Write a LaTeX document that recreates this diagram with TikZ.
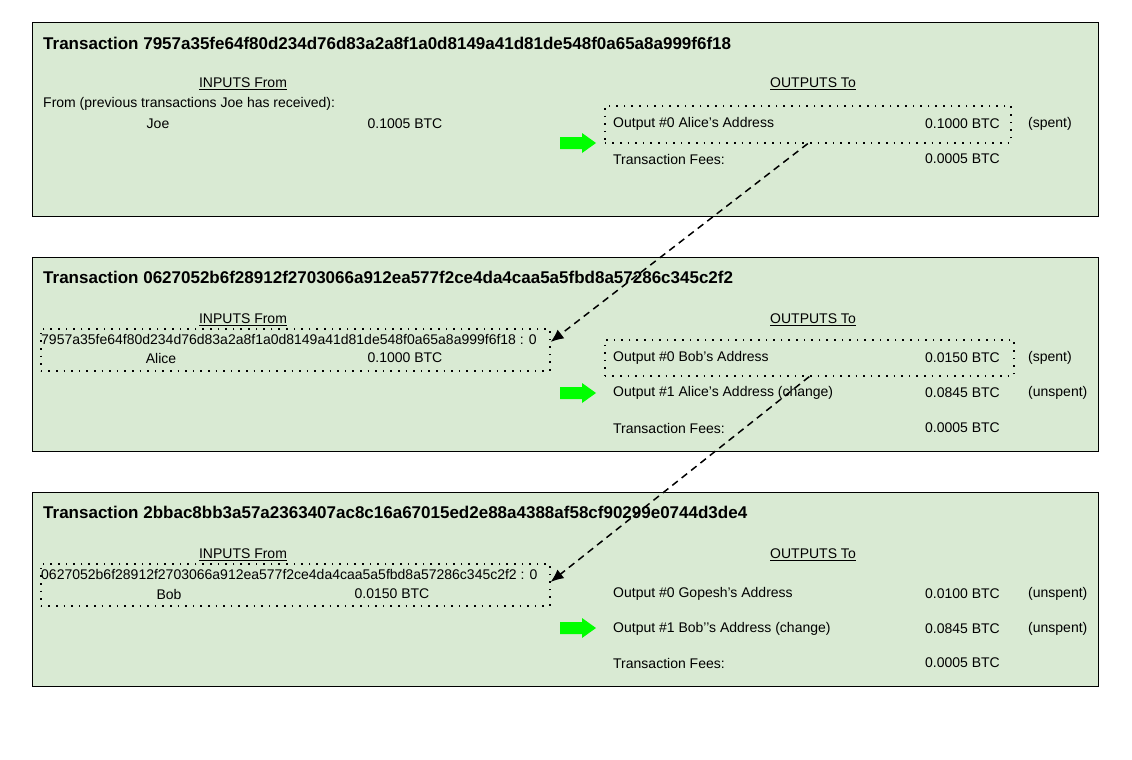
\documentclass[tikz,border=0pt]{standalone}
\usepackage{fontspec}
\setmainfont{Liberation Sans}
\usetikzlibrary{calc,arrows.meta}

\begin{document}
\begin{tikzpicture}[x=1pt,y=-1pt,
	txbox/.style={draw, thick, fill=txgreen},
	dotbox/.style={draw, line width=1.6pt, dash pattern=on 1.6pt off 6pt, inner sep=0},
	lbl/.style={font=\fontsize{14}{16}\selectfont, inner sep=0},
	ttl/.style={font=\fontsize{17}{19}\selectfont\bfseries, inner sep=0, anchor=west},
	link/.style={line width=1.5pt, dash pattern=on 7pt off 5pt, -{Latex[length=13pt,width=11pt]}},
	go/.pic={\fill [green] (-18,-6) -- (4,-6) -- (4,-10) -- (18,0) -- (4,10) -- (4,6) -- (-18,6) -- cycle;}]

	\definecolor{txgreen}{HTML}{D9EAD3}
	\useasboundingbox (0,0) rectangle (1132,760);

	% transaction boxes
	\draw [txbox] (32,22) rectangle (1098,216);
	\draw [txbox] (32,257) rectangle (1098,451);
	\draw [txbox] (32,492) rectangle (1098,686);

	\node [ttl] (t1) at (43,43) {Transaction 7957a35fe64f80d234d76d83a2a8f1a0d8149a41d81de548f0a65a8a999f6f18};
	\node [ttl] (t2) at (43,277) {Transaction 0627052b6f28912f2703066a912ea577f2ce4da4caa5a5fbd8a57286c345c2f2};
	\node [ttl] (t3) at (43,512) {Transaction 2bbac8bb3a57a2363407ac8c16a67015ed2e88a4388af58cf90299e0744d3de4};

	% dotted boxes
	\node [dotbox, minimum width=406pt, minimum height=37pt, anchor=north west] (out1) at (604,105) {};
	\node [dotbox, minimum width=509pt, minimum height=42pt, anchor=north west] (in2) at (40,328) {};
	\node [dotbox, minimum width=409pt, minimum height=36pt, anchor=north west] (out2) at (604,339) {};
	\node [dotbox, minimum width=509pt, minimum height=42pt, anchor=north west] (in3) at (40,563) {};

	% first transaction
	\node [lbl] (i1) at (243,84) {\underline{INPUTS From}};
	\node [lbl] (o1) at (813,84) {\underline{OUTPUTS To}};
	\node [lbl, anchor=west] (f1) at (43,104) {From (previous transactions Joe has received):};
	\node [lbl] (joe) at (158,124) {Joe};
	\node [lbl] (joev) at (405,124) {0.1005 BTC};
	\node [lbl, anchor=west] (o1a) at (613,124) {Output \#0 Alice’s Address};
	\node [lbl, anchor=east] (o1av) at (1000,124) {0.1000 BTC};
	\node [lbl, anchor=west] (o1as) at (1028,124) {(spent)};
	\node [lbl, anchor=west] (fee1) at (613,159) {Transaction Fees:};
	\node [lbl, anchor=east] (fee1v) at (1000,159) {0.0005 BTC};
	\pic at (578,143) {go};

	% second transaction
	\node [lbl] (i2) at (243,320) {\underline{INPUTS From}};
	\node [lbl] (o2) at (813,320) {\underline{OUTPUTS To}};
	\node [lbl, anchor=west] (h2) at (41,339) {7957a35fe64f80d234d76d83a2a8f1a0d8149a41d81de548f0a65a8a999f6f18 : 0};
	\node [lbl] (alice) at (161,358) {Alice};
	\node [lbl] (alicev) at (405,358) {0.1000 BTC};
	\node [lbl, anchor=west] (o2a) at (613,358) {Output \#0 Bob’s Address};
	\node [lbl, anchor=east] (o2av) at (1000,358) {0.0150 BTC};
	\node [lbl, anchor=west] (o2as) at (1028,358) {(spent)};
	\node [lbl, anchor=west] (o2b) at (613,393) {Output \#1 Alice’s Address (change)};
	\node [lbl, anchor=east] (o2bv) at (1000,393) {0.0845 BTC};
	\node [lbl, anchor=west] (o2bs) at (1028,393) {(unspent)};
	\node [lbl, anchor=west] (fee2) at (613,428) {Transaction Fees:};
	\node [lbl, anchor=east] (fee2v) at (1000,428) {0.0005 BTC};
	\pic at (578,393) {go};

	% third transaction
	\node [lbl] (i3) at (243,555) {\underline{INPUTS From}};
	\node [lbl] (o3) at (813,555) {\underline{OUTPUTS To}};
	\node [lbl, anchor=west] (h3) at (41,574) {0627052b6f28912f2703066a912ea577f2ce4da4caa5a5fbd8a57286c345c2f2 : 0};
	\node [lbl] (bob) at (169,594) {Bob};
	\node [lbl] (bobv) at (392,594) {0.0150 BTC};
	\node [lbl, anchor=west] (o3a) at (613,594) {Output \#0 Gopesh’s Address};
	\node [lbl, anchor=east] (o3av) at (1000,594) {0.0100 BTC};
	\node [lbl, anchor=west] (o3as) at (1028,594) {(unspent)};
	\node [lbl, anchor=west] (o3b) at (613,629) {Output \#1 Bob’’s Address (change)};
	\node [lbl, anchor=east] (o3bv) at (1000,629) {0.0845 BTC};
	\node [lbl, anchor=west] (o3bs) at (1028,629) {(unspent)};
	\node [lbl, anchor=west] (fee3) at (613,663) {Transaction Fees:};
	\node [lbl, anchor=east] (fee3v) at (1000,663) {0.0005 BTC};
	\pic at (578,628) {go};

	% spending links
	\draw [link] (out1.south) -- ($(in2.north east)+(0,14)$);
	\draw [link] (out2.south) -- ($(in3.north east)+(0,19)$);

\end{tikzpicture}
\end{document}
